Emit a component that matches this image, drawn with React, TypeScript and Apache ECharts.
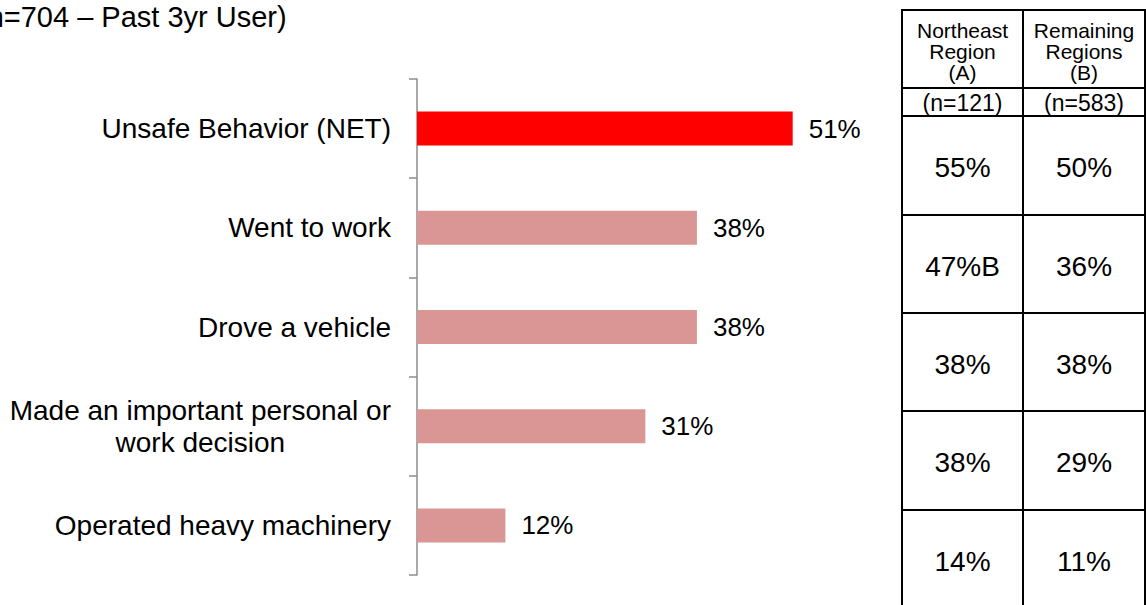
import React, { useEffect, useRef } from "react";
import * as echarts from "echarts";

const FONT = "'Liberation Sans', Arial, sans-serif";

const title = "(n=704 – Past 3yr User)";
const categories = [
  "Unsafe Behavior (NET)",
  "Went to work",
  "Drove a vehicle",
  "Made an important personal or\nwork decision",
  "Operated heavy machinery",
];
const totals = [51, 38, 38, 31, 12];
const barColors = ["#FF0000", "#D99694", "#D99694", "#D99694", "#D99694"];

const headerA = "Northeast\nRegion\n(A)";
const headerB = "Remaining\nRegions\n(B)";
const baseA = "(n=121)";
const baseB = "(n=583)";
const northeastValues = [55, 47, 38, 38, 14];
const northeastSig = ["", "B", "", "", ""];
const remainingValues = [50, 36, 38, 29, 11];
const remainingSig = ["", "", "", "", ""];

export default function App() {
  const ref = useRef<HTMLDivElement>(null);
  useEffect(() => {
    if (!ref.current) return;
    const chart = echarts.init(ref.current, undefined, { renderer: "svg" });

    // table geometry
    const xL = 902, xM = 1023, xR = 1145;
    const rowLines = [10, 88, 116, 215, 313, 411, 510, 608];
    const lineStyle = { stroke: "#000", lineWidth: 2 };
    const table: any[] = [];
    [xL, xM, xR].forEach((x) =>
      table.push({ type: "line", shape: { x1: x, y1: rowLines[0] - 1, x2: x, y2: 620 }, style: lineStyle })
    );
    rowLines.forEach((y) =>
      table.push({ type: "line", shape: { x1: xL - 1, y1: y, x2: xR + 1, y2: y }, style: lineStyle })
    );
    const cA = (xL + xM) / 2, cB = (xM + xR) / 2;
    const headStyle = { fontSize: 21, lineHeight: 21, fontFamily: FONT, fill: "#000", align: "center", verticalAlign: "middle" };
    const baseStyle = { fontSize: 23, fontFamily: FONT, fill: "#000", align: "center", verticalAlign: "middle" };
    table.push({ type: "text", x: cA, y: (rowLines[0] + rowLines[1]) / 2 + 2, style: { ...headStyle, text: headerA } });
    table.push({ type: "text", x: cB, y: (rowLines[0] + rowLines[1]) / 2 + 2, style: { ...headStyle, text: headerB } });
    table.push({ type: "text", x: cA, y: (rowLines[1] + rowLines[2]) / 2 + 1, style: { ...baseStyle, text: baseA } });
    table.push({ type: "text", x: cB, y: (rowLines[1] + rowLines[2]) / 2 + 1, style: { ...baseStyle, text: baseB } });
    const cellStyle = { fontSize: 28, fontFamily: FONT, fill: "#000", align: "center", verticalAlign: "middle" };
    northeastValues.forEach((v, i) => {
      const yc = (rowLines[i + 2] + rowLines[i + 3]) / 2 + 2;
      table.push({ type: "text", x: cA, y: yc, style: { ...cellStyle, text: `${v}%${northeastSig[i]}` } });
      table.push({ type: "text", x: cB, y: yc, style: { ...cellStyle, text: `${remainingValues[i]}%${remainingSig[i]}` } });
    });

    chart.setOption({
      animation: false,
      graphic: [
        { type: "text", x: -22, y: 17, style: { text: title, fontSize: 29, fontFamily: FONT, fill: "#000", verticalAlign: "middle" } },
        ...table,
      ],
      grid: { left: 417, top: 79, width: 442, height: 496 },
      xAxis: { type: "value", min: 0, max: 60, show: false },
      yAxis: {
        type: "category",
        inverse: true,
        data: categories,
        axisLine: { show: true, lineStyle: { color: "#8C8C8C", width: 1.5 } },
        axisTick: { show: true, length: 8, lineStyle: { color: "#8C8C8C", width: 1.5 } },
        axisLabel: {
          margin: 26,
          align: "right",
          formatter: (v: string) => v.split("\n").map((l) => `{c|${l}}`).join("\n"),
          rich: { c: { align: "center", fontSize: 28, lineHeight: 32, fontFamily: FONT, color: "#000" } },
        },
      },
      series: [
        {
          type: "bar",
          barWidth: 34,
          data: totals.map((v, i) => ({ value: v, itemStyle: { color: barColors[i] } })),
          label: {
            show: true,
            position: "right",
            distance: 16,
            formatter: "{c}%",
            fontSize: 26,
            fontFamily: FONT,
            color: "#000",
          },
        },
      ],
    });
    return () => chart.dispose();
  }, []);
  return <div ref={ref} style={{ position: "fixed", left: 0, top: 0, width: 1146, height: 605, background: "#fff" }} />;
}
